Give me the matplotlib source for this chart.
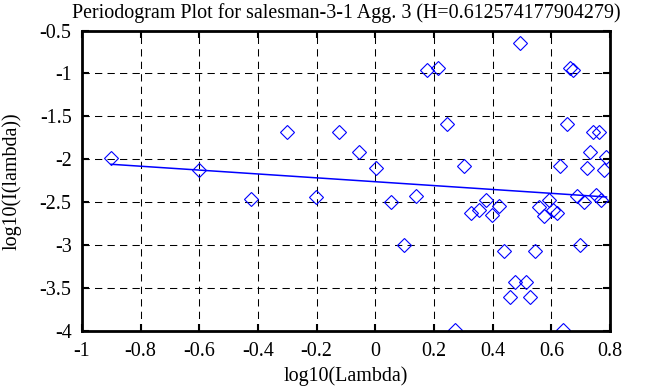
import numpy as np
import matplotlib
matplotlib.use("Agg")
import matplotlib.pyplot as plt

# log10(Lambda), log10(I(lambda))
log_lambda = [-0.901, -0.600, -0.424, -0.301, -0.203, -0.125, -0.057, 0.001,
              0.054, 0.099, 0.140, 0.177, 0.213, 0.246, 0.273, 0.301,
              0.327, 0.352, 0.376, 0.399, 0.421, 0.439, 0.460, 0.477,
              0.494, 0.514, 0.528, 0.546, 0.558, 0.574, 0.591, 0.605,
              0.618, 0.630, 0.641, 0.654, 0.664, 0.675, 0.689, 0.698,
              0.713, 0.722, 0.732, 0.741, 0.751, 0.762, 0.771, 0.779, 0.788]
log_power = [-1.985, -2.128, -2.466, -1.688, -2.439, -1.681, -1.914, -2.100,
             -2.498, -3.003, -2.431, -0.961, -0.941, -1.591, -3.987, -2.078,
             -2.622, -2.594, -2.478, -2.653, -2.548, -3.073, -3.602, -3.431,
             -0.642, -3.431, -3.602, -3.073, -2.556, -2.665, -2.478, -2.586,
             -2.626, -2.078, -3.987, -1.591, -0.941, -0.961, -2.428, -3.003,
             -2.498, -2.101, -1.914, -1.681, -2.419, -1.688, -2.478, -2.128, -1.973]

# fitted regression line end points
fit_x = [-0.901, 0.788]
fit_y = [-2.058, -2.439]

x_ticks = [-1, -0.8, -0.6, -0.4, -0.2, 0, 0.2, 0.4, 0.6, 0.8]
x_ticklabels = ["-1", "-0.8", "-0.6", "-0.4", "-0.2", "0", "0.2", "0.4", "0.6", "0.8"]
y_ticks = [-4, -3.5, -3, -2.5, -2, -1.5, -1, -0.5]
y_ticklabels = ["-4", "-3.5", "-3", "-2.5", "-2", "-1.5", "-1", "-0.5"]

title = "Periodogram Plot for salesman-3-1 Agg. 3 (H=0.612574177904279)"

plt.rcParams['font.family'] = ['Liberation Serif', 'DejaVu Serif']

fig = plt.figure(figsize=(6.63, 3.87), dpi=100)
ax = fig.add_axes([82 / 663, 56 / 387, 528 / 663, 300.5 / 387])

ax.plot(log_lambda, log_power, linestyle="none", marker="D", markersize=7.3,
        markerfacecolor="none", markeredgecolor="blue", markeredgewidth=0.8)
ax.plot(fit_x, fit_y, color="blue", linewidth=1.1)

ax.set_xlim(-1, 0.8)
ax.set_ylim(-4, -0.5)
ax.set_xticks(x_ticks)
ax.set_yticks(y_ticks)
ax.set_xticklabels(x_ticklabels)
ax.set_yticklabels(y_ticklabels)
ax.grid(True, color="black", linestyle=(0, (7, 5)), linewidth=0.75)
ax.tick_params(direction="in", top=True, right=True, length=5, width=1.5, labelsize=14.4)
ax.tick_params(axis="x", pad=8)
ax.tick_params(axis="y", pad=7.5)
for sp in ax.spines.values():
    sp.set_linewidth(2)

ax.set_xlabel("log10(Lambda)", fontsize=14.4, labelpad=4)
ax.set_ylabel("log10(I(lambda))", fontsize=14.4, labelpad=13)
ax.set_title(title, fontsize=14.4, pad=9)

fig.savefig("out.png", dpi=100)
